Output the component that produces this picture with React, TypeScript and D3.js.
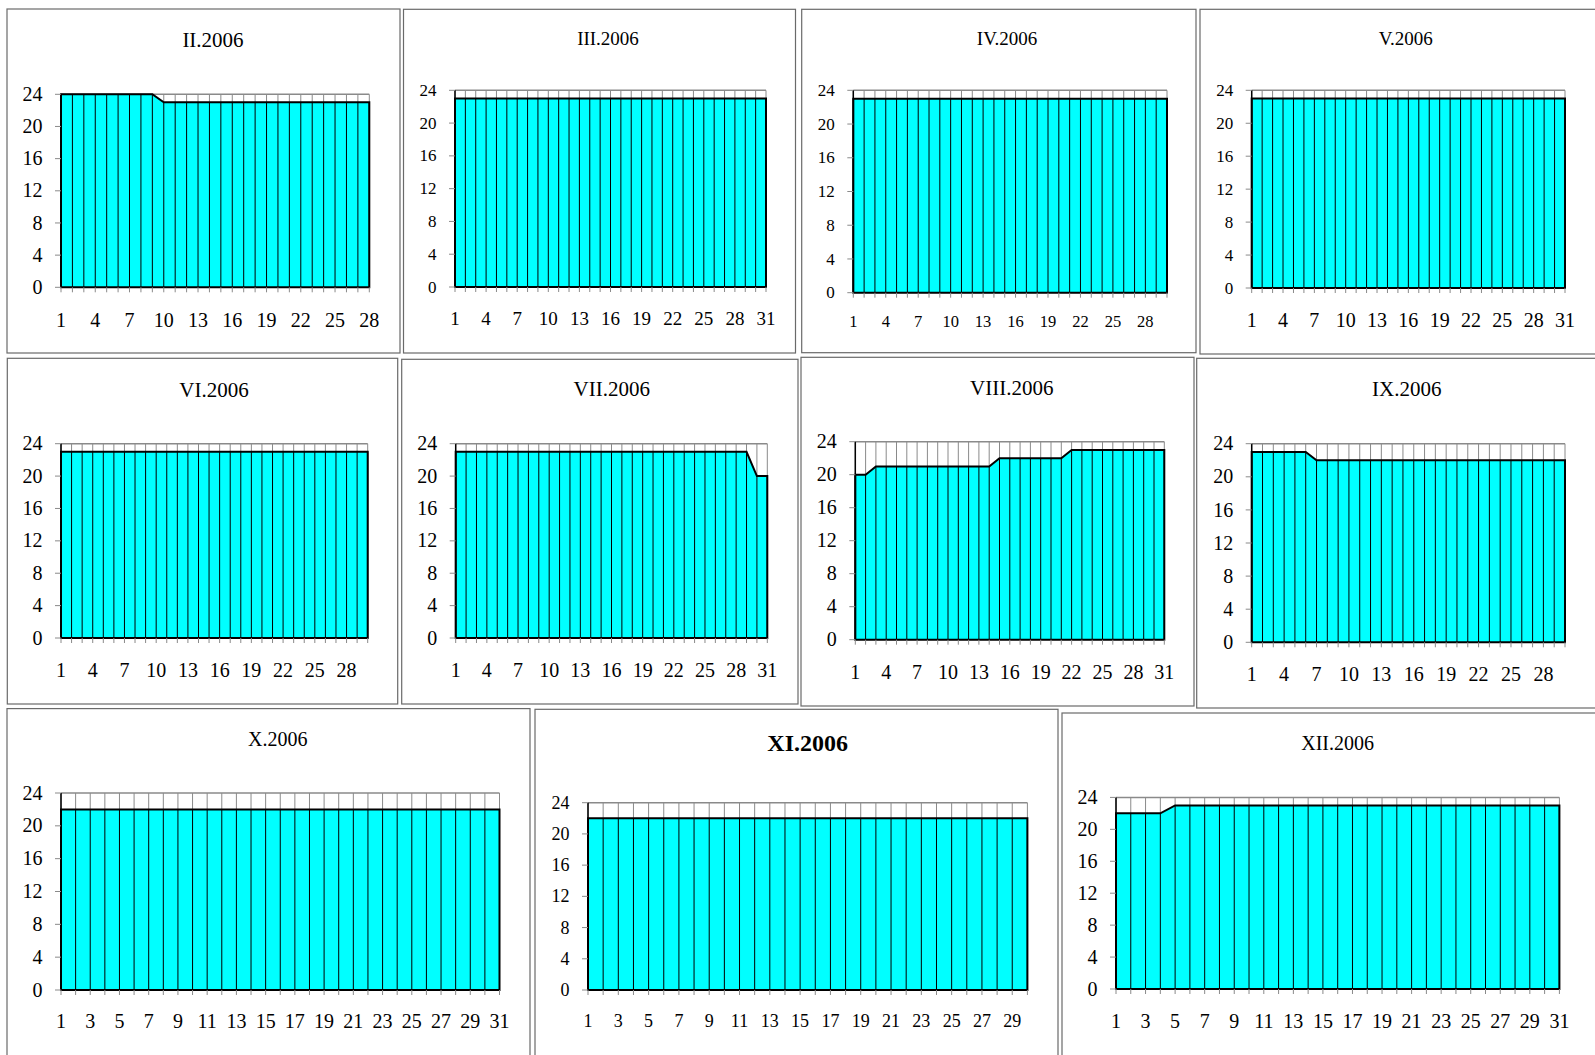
import React from "react";
import * as d3 from "d3";

// ---------- DATA ----------
const titles = ["II.2006", "III.2006", "IV.2006", "V.2006", "VI.2006", "VII.2006", "VIII.2006", "IX.2006", "X.2006", "XI.2006", "XII.2006"];

const valuesII = [24, 24, 24, 24, 24, 24, 24, 24, 24, 23, 23, 23, 23, 23, 23, 23, 23, 23, 23, 23, 23, 23, 23, 23, 23, 23, 23, 23];
const valuesIII = [23, 23, 23, 23, 23, 23, 23, 23, 23, 23, 23, 23, 23, 23, 23, 23, 23, 23, 23, 23, 23, 23, 23, 23, 23, 23, 23, 23, 23, 23, 23];
const valuesIV = [23, 23, 23, 23, 23, 23, 23, 23, 23, 23, 23, 23, 23, 23, 23, 23, 23, 23, 23, 23, 23, 23, 23, 23, 23, 23, 23, 23, 23, 23];
const valuesV = [23, 23, 23, 23, 23, 23, 23, 23, 23, 23, 23, 23, 23, 23, 23, 23, 23, 23, 23, 23, 23, 23, 23, 23, 23, 23, 23, 23, 23, 23, 23];
const valuesVI = [23, 23, 23, 23, 23, 23, 23, 23, 23, 23, 23, 23, 23, 23, 23, 23, 23, 23, 23, 23, 23, 23, 23, 23, 23, 23, 23, 23, 23, 23];
const valuesVII = [23, 23, 23, 23, 23, 23, 23, 23, 23, 23, 23, 23, 23, 23, 23, 23, 23, 23, 23, 23, 23, 23, 23, 23, 23, 23, 23, 23, 23, 20, 20];
const valuesVIII = [20, 20, 21, 21, 21, 21, 21, 21, 21, 21, 21, 21, 21, 21, 22, 22, 22, 22, 22, 22, 22, 23, 23, 23, 23, 23, 23, 23, 23, 23, 23];
const valuesIX = [23, 23, 23, 23, 23, 23, 22, 22, 22, 22, 22, 22, 22, 22, 22, 22, 22, 22, 22, 22, 22, 22, 22, 22, 22, 22, 22, 22, 22, 22];
const valuesX = [22, 22, 22, 22, 22, 22, 22, 22, 22, 22, 22, 22, 22, 22, 22, 22, 22, 22, 22, 22, 22, 22, 22, 22, 22, 22, 22, 22, 22, 22, 22];
const valuesXI = [22, 22, 22, 22, 22, 22, 22, 22, 22, 22, 22, 22, 22, 22, 22, 22, 22, 22, 22, 22, 22, 22, 22, 22, 22, 22, 22, 22, 22, 22];
const valuesXII = [22, 22, 22, 22, 23, 23, 23, 23, 23, 23, 23, 23, 23, 23, 23, 23, 23, 23, 23, 23, 23, 23, 23, 23, 23, 23, 23, 23, 23, 23, 23];

const xLabels3to28 = [1, 4, 7, 10, 13, 16, 19, 22, 25, 28];
const xLabels3to31 = [1, 4, 7, 10, 13, 16, 19, 22, 25, 28, 31];
const xLabels2to29 = [1, 3, 5, 7, 9, 11, 13, 15, 17, 19, 21, 23, 25, 27, 29];
const xLabels2to31 = [1, 3, 5, 7, 9, 11, 13, 15, 17, 19, 21, 23, 25, 27, 29, 31];
const yTicks = [0, 4, 8, 12, 16, 20, 24];

const seriesList = [valuesII, valuesIII, valuesIV, valuesV, valuesVI, valuesVII, valuesVIII, valuesIX, valuesX, valuesXI, valuesXII];
const xLabelList = [xLabels3to28, xLabels3to31, xLabels3to28, xLabels3to31, xLabels3to28, xLabels3to31, xLabels3to31, xLabels3to28, xLabels2to31, xLabels2to29, xLabels2to31];

// ---------- LAYOUT (positions & styles) ----------
type Layout = {
  box: [number, number, number, number]; // x0, y0, x1, y1
  plot: [number, number, number, number]; // left, right, top, bottom
  title: [number, number];
  titleSize: number;
  bold?: boolean;
  ySize: number;
  xSize: number;
  xLabelDy: number;
};

const layouts: Layout[] = [
  { box: [7, 9, 400, 353], plot: [61, 369.3, 94.3, 287.3], title: [213, 40.5], titleSize: 21, ySize: 20, xSize: 20, xLabelDy: 33 },
  { box: [403.5, 9.3, 795.5, 353], plot: [455, 766, 90.3, 287], title: [608, 38.5], titleSize: 19, ySize: 17, xSize: 19, xLabelDy: 31.5 },
  { box: [801.7, 9.3, 1196, 352.7], plot: [853.3, 1167, 90.3, 292.7], title: [1007, 38.5], titleSize: 19, ySize: 17, xSize: 16.5, xLabelDy: 29 },
  { box: [1200, 9.3, 1600, 354], plot: [1251.7, 1565, 90.3, 288], title: [1405.7, 38.5], titleSize: 19, ySize: 17, xSize: 20, xLabelDy: 32.7 },
  { box: [7.3, 358.3, 397.7, 704], plot: [61, 367.7, 443.7, 638], title: [214, 390], titleSize: 21, ySize: 20, xSize: 20, xLabelDy: 32.7 },
  { box: [401.7, 359.3, 798, 704], plot: [455.7, 767.3, 443.7, 638], title: [611.7, 389.3], titleSize: 21, ySize: 20, xSize: 20, xLabelDy: 32.7 },
  { box: [801, 357.3, 1194, 706], plot: [855.3, 1164.3, 441.7, 639.7], title: [1011.7, 388.3], titleSize: 21, ySize: 20, xSize: 20, xLabelDy: 33 },
  { box: [1196.7, 358.3, 1600, 708], plot: [1251.7, 1565, 443.7, 642.3], title: [1406.7, 389.3], titleSize: 21, ySize: 20, xSize: 20, xLabelDy: 31.7 },
  { box: [7, 708.6, 530, 1062], plot: [61, 499.5, 793, 990], title: [277.7, 739], titleSize: 20, ySize: 20, xSize: 20, xLabelDy: 31 },
  { box: [535, 709.3, 1058, 1062], plot: [588, 1027.4, 802.7, 990], title: [807.7, 743.5], titleSize: 24, bold: true, ySize: 18, xSize: 18, xLabelDy: 31 },
  { box: [1062, 713, 1600, 1062], plot: [1116, 1559.4, 797.4, 989], title: [1337.6, 743], titleSize: 20, ySize: 20, xSize: 20, xLabelDy: 32 },
];

const FONT = "'Liberation Serif', 'Times New Roman', serif";
const GRID = "#8a8a8a";
const FILL = "#00FFFF";

function Panel({ title, values, xLabels, L }: { title: string; values: number[]; xLabels: number[]; L: Layout }) {
  const n = values.length;
  const days = d3.range(1, n + 1);
  const [left, right, top, bottom] = L.plot;
  const x = d3.scaleLinear().domain([1, n]).range([left, right]);
  const y = d3.scaleLinear().domain([0, 24]).range([bottom, top]);
  const area = d3
    .area<number>()
    .x((_, i) => x(i + 1))
    .y0(y(0))
    .y1((d) => y(d));
  const [bx0, by0, bx1, by1] = L.box;
  return (
    <g>
      <rect x={bx0} y={by0} width={bx1 - bx0} height={by1 - by0} fill="#fff" stroke="#6a6a6a" strokeWidth={1.2} />
      {days.map((d) => (
        <line key={"g" + d} x1={x(d)} x2={x(d)} y1={y(24)} y2={y(0)} stroke={GRID} strokeWidth={1} />
      ))}
      <line x1={left} x2={right} y1={y(24)} y2={y(24)} stroke={GRID} strokeWidth={1.5} />
      <path d={area(values) || ""} fill={FILL} stroke="none" />
      {values.map((v, i) => (
        <line key={"d" + i} x1={x(i + 1)} x2={x(i + 1)} y1={y(0)} y2={y(v)} stroke="#000" strokeWidth={1} />
      ))}
      <path d={area(values) || ""} fill="none" stroke="#000" strokeWidth={2} strokeLinejoin="miter" />
      <line x1={left} x2={left} y1={y(24)} y2={y(0)} stroke="#000" strokeWidth={1.5} />
      {yTicks.map((t) => (
        <g key={"y" + t}>
          <line x1={left - 6} x2={left} y1={y(t)} y2={y(t)} stroke={GRID} strokeWidth={1} />
          <text x={left - 18.5} y={y(t) + L.ySize * 0.33} textAnchor="end" fontSize={L.ySize} fontFamily={FONT} fill="#000">
            {t}
          </text>
        </g>
      ))}
      {days.map((d) => (
        <line key={"t" + d} x1={x(d)} x2={x(d)} y1={y(0)} y2={y(0) + 5} stroke={GRID} strokeWidth={1} />
      ))}
      {xLabels.map((d) => (
        <text key={"x" + d} x={x(d)} y={y(0) + L.xLabelDy + L.xSize * 0.33} textAnchor="middle" fontSize={L.xSize} fontFamily={FONT} fill="#000">
          {d}
        </text>
      ))}
      <text
        x={L.title[0]}
        y={L.title[1] + L.titleSize * 0.33}
        textAnchor="middle"
        fontSize={L.titleSize}
        fontWeight={L.bold ? "bold" : "normal"}
        fontFamily={FONT}
        fill="#000"
      >
        {title}
      </text>
    </g>
  );
}

export default function App() {
  return (
    <svg
      width={1595}
      height={1055}
      viewBox="0 0 1595 1055"
      style={{ position: "absolute", left: 0, top: 0, display: "block", background: "#fff" }}
    >
      <rect x={0} y={0} width={1595} height={1055} fill="#fff" />
      {titles.map((t, i) => (
        <Panel key={t} title={t} values={seriesList[i]} xLabels={xLabelList[i]} L={layouts[i]} />
      ))}
    </svg>
  );
}
